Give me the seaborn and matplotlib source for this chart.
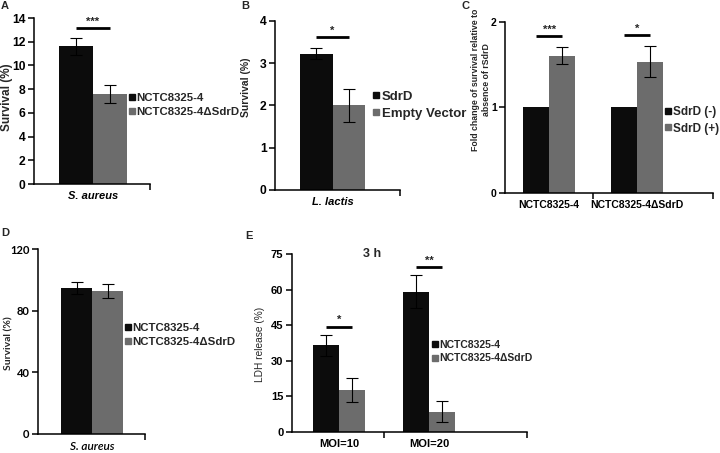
import matplotlib
matplotlib.use("Agg")
import matplotlib.pyplot as plt
import seaborn as sns
import pandas as pd
import numpy as np
from matplotlib.lines import Line2D

sns.set_theme(style="white")
plt.rcParams["font.family"] = ["Liberation Sans", "DejaVu Sans"]
plt.rcParams["font.weight"] = "bold"

BLACK = "#0c0c0c"
GRAY = "#6c6c6c"

# ---------------- data ----------------
a_groups = ["S. aureus"]
a_hue = ["NCTC8325-4", "NCTC8325-4ΔSdrD"]
a_strain = [11.6]
a_mutant = [7.6]
a_strain_err = [0.7]
a_mutant_err = [0.75]
a_sig = ["***"]

b_groups = ["L. lactis"]
b_hue = ["SdrD", "Empty Vector"]
b_sdrd = [3.22]
b_empty = [2.0]
b_sdrd_err = [0.13]
b_empty_err = [0.4]
b_sig = ["*"]

c_groups = ["NCTC8325-4", "NCTC8325-4ΔSdrD"]
c_hue = ["SdrD (-)", "SdrD (+)"]
c_minus = [1.0, 1.0]
c_plus = [1.6, 1.53]
c_minus_err = [0.0, 0.0]
c_plus_err = [0.1, 0.18]
c_sig = ["***", "*"]

d_groups = ["S. aureus"]
d_hue = ["NCTC8325-4", "NCTC8325-4ΔSdrD"]
d_strain = [94.5]
d_mutant = [93.0]
d_strain_err = [4.0]
d_mutant_err = [4.5]

e_groups = ["MOI=10", "MOI=20"]
e_hue = ["NCTC8325-4", "NCTC8325-4ΔSdrD"]
e_strain = [36.5, 59.0]
e_mutant = [17.5, 8.5]
e_strain_err = [4.5, 7.0]
e_mutant_err = [5.0, 4.3]
e_sig = ["*", "**"]

W, H = 720, 453
fig = plt.figure(figsize=(W / 100, H / 100), dpi=100)


def px_axes(l, t, r, b):
    return fig.add_axes([l / W, 1 - b / H, (r - l) / W, (b - t) / H])


def panel(rect, groups, hue_names, vals, errs, ylim, yticks, width, xlim,
          tick_fs, xlabel_style, legend_xy, legend_fs, sig=None, sig_off=0.06,
          tick_family=None, xfam=None, xweight="bold", xfs=None):
    ax = px_axes(*rect)
    rows = []
    for hn, vv in zip(hue_names, vals):
        for g, v in zip(groups, vv):
            rows.append({"group": g, "hue": hn, "value": v})
    df = pd.DataFrame(rows)
    sns.barplot(data=df, x="group", y="value", hue="hue", order=groups,
                hue_order=hue_names, palette=[BLACK, GRAY], width=width,
                errorbar=None, saturation=1, ax=ax, legend=False,
                edgecolor="none", linewidth=0)
    centers = []
    for cont, ee, vv in zip(ax.containers, errs, vals):
        xs = [p.get_x() + p.get_width() / 2 for p in cont.patches]
        centers.append(xs)
        for x, v, e in zip(xs, vv, ee):
            if e > 0:
                ax.errorbar(x, v, yerr=e, fmt="none", ecolor="black",
                            elinewidth=0.8, capsize=4, capthick=0.8, zorder=5)
    ymax = ylim[1]
    if sig:
        for i, s in enumerate(sig):
            top = max(vals[0][i] + errs[0][i], vals[1][i] + errs[1][i])
            y = top + sig_off * ymax
            ax.plot([centers[0][i], centers[1][i]], [y, y], color="black",
                    lw=2, solid_capstyle="butt", zorder=6, clip_on=False)
            ax.text((centers[0][i] + centers[1][i]) / 2, y + 0.01 * ymax, s,
                    ha="center", va="bottom", fontsize=8, fontweight="bold")
    ax.set_ylim(*ylim)
    ax.set_xlim(*xlim)
    ax.set_yticks(yticks)
    ax.set_yticklabels([str(t) for t in yticks])
    ax.set_xlabel("")
    ax.set_ylabel("")
    for sp in ["top", "right"]:
        ax.spines[sp].set_visible(False)
    for sp in ["left", "bottom"]:
        ax.spines[sp].set_linewidth(1.1)
        ax.spines[sp].set_color("black")
    ax.tick_params(axis="y", direction="out", length=4, width=1.1,
                   labelsize=tick_fs, pad=2, left=True, colors="black")
    ax.tick_params(axis="x", which="major", length=0,
                   labelsize=xfs if xfs else tick_fs, pad=5, colors="black")
    minors = [xlim[1]] + [i + 0.5 for i in range(len(groups) - 1)]
    ax.set_xticks(minors, minor=True)
    ax.tick_params(axis="x", which="minor", direction="out", length=4,
                   width=1.1, bottom=True, colors="black")
    for lab in ax.get_yticklabels():
        lab.set_fontweight("bold")
        if tick_family:
            lab.set_family(tick_family)
    for lab in ax.get_xticklabels():
        lab.set_fontweight(xweight)
        if xlabel_style == "italic":
            lab.set_style("italic")
        if xfam:
            lab.set_family(xfam)
    handles = [Line2D([], [], marker="s", color=c, ls="", markersize=5)
               for c in (BLACK, GRAY)]
    ax.legend(handles, hue_names, loc="center left",
              bbox_to_anchor=(legend_xy[0] / W, 1 - legend_xy[1] / H),
              bbox_transform=fig.transFigure, frameon=False,
              handlelength=0.5, handletextpad=0.15, labelspacing=0.35,
              borderpad=0, borderaxespad=0,
              prop={"size": legend_fs, "weight": "bold"})
    return ax


# Panel A
panel((34, 18, 150, 184), a_groups, a_hue, [a_strain, a_mutant],
      [a_strain_err, a_mutant_err], (0, 14), list(range(0, 15, 2)), 0.8,
      (-0.69, 0.67), 8.7, "italic", (129, 105), 8.2, sig=a_sig, xfs=8)
# Panel B
panel((275, 21, 400, 190), b_groups, b_hue, [b_sdrd, b_empty],
      [b_sdrd_err, b_empty_err], (0, 4), [0, 1, 2, 3, 4], 0.8,
      (-0.71, 0.83), 8.7, "italic", (373, 105), 9.5, sig=b_sig, sig_off=0.065,
      xfs=8)
# Panel C
panel((505, 21.7, 713, 192.7), c_groups, c_hue, [c_minus, c_plus],
      [c_minus_err, c_plus_err], (0, 2), [0, 1, 2], 0.59,
      (-0.5, 1.86), 7.5, "normal", (665, 120.5), 8.5, sig=c_sig, sig_off=0.065)
# Panel D
panel((38, 249, 145, 434), d_groups, d_hue, [d_strain, d_mutant],
      [d_strain_err, d_mutant_err], (0, 120), [0, 40, 80, 120], 0.8,
      (-0.70, 0.68), 8, "italic", (125, 335), 8.2,
      tick_family=["Lato", "DejaVu Sans"], xfam=["Lato", "DejaVu Sans"],
      xweight="semibold", xfs=8.5)
# Panel E
axE = panel((291.7, 254, 526.7, 431.7), e_groups, e_hue, [e_strain, e_mutant],
            [e_strain_err, e_mutant_err], (0, 75), [0, 15, 30, 45, 60, 75], 0.58,
            (-0.525, 2.085), 8, "normal", (432, 351.5), 7.5, sig=e_sig,
            sig_off=0.045)
axE.text(0.34, 1.0, "3 h", transform=axE.transAxes, ha="center", va="center",
         fontsize=9, fontweight="bold")

# y labels
def ftext(x, y, s, **kw):
    fig.text(x / W, 1 - y / H, s, ha="center", va="center", **kw)

ftext(7.5, 97, "Survival (%)", rotation=90, fontsize=8.5, fontweight="bold")
ftext(246, 87, "Survival (%)", rotation=90, fontsize=7.5, fontweight="bold")
ftext(481, 80, "Fold change of survival relative to\nabsence of rSdrD",
      rotation=90, fontsize=6.3, fontweight="bold", linespacing=1.4,
      multialignment="center")
ftext(9, 343, "Survival (%)", rotation=90, fontsize=7.5, fontweight="bold",
      family=["Lato", "DejaVu Sans"])
ftext(260, 344, "LDH release (%)", rotation=90, fontsize=7.3, fontweight="normal")

# panel letters
for x, y, s in [(5, 6, "A"), (245, 6, "B"), (466, 6, "C"), (5, 233, "D"),
                (249, 236, "E")]:
    ftext(x, y, s, fontsize=8, fontweight="bold")

fig.savefig("out.png", dpi=100)
